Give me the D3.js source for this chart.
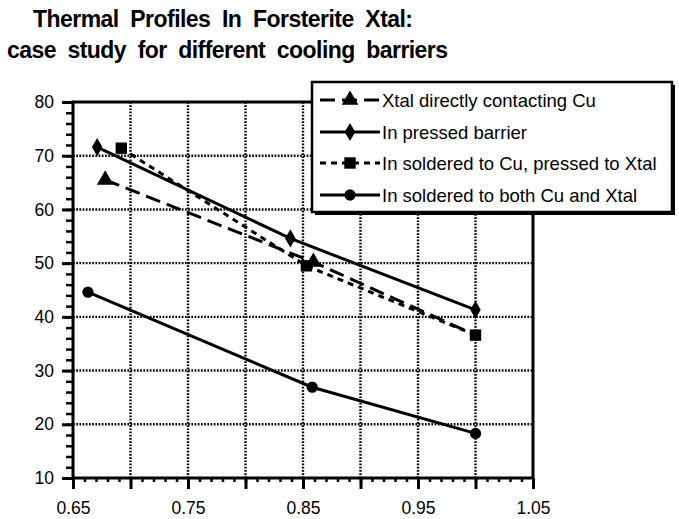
<!DOCTYPE html>
<html lang="en">

<head>
  <meta charset="UTF-8">
  <title>Thermal Profiles in Forsterite Xtal</title>
  <script src="https://cdn.jsdelivr.net/npm/d3@7"></script>
  <style>
    body {
      margin: 0;
      background: #fff;
    }

    text {
      font-family: "Liberation Sans", Arial, sans-serif;
      fill: #000;
    }
  </style>
</head>

<body>
  <div id="wrapper"></div>
  <script>
    //#region Data
    const titleLines = ["Thermal  Profiles  In  Forsterite  Xtal:", "case  study  for  different  cooling  barriers"];

    const seriesNames = [
      "Xtal directly contacting Cu",
      "In pressed barrier",
      "In soldered to Cu, pressed to Xtal",
      "In soldered to both Cu and Xtal",
    ];

    const xtalCuX = [0.678, 0.859, 1.0];
    const xtalCuY = [65.5, 50.2, 36.6];

    const pressedX = [0.671, 0.839, 1.0];
    const pressedY = [71.6, 54.6, 41.3];

    const solderedCuX = [0.692, 0.853, 1.0];
    const solderedCuY = [71.4, 49.5, 36.6];

    const solderedBothX = [0.663, 0.858, 1.0];
    const solderedBothY = [44.6, 26.9, 18.3];

    const xTicks = [0.65, 0.70, 0.75, 0.80, 0.85, 0.90, 0.95, 1.00, 1.05];
    const xTickLabels = ["0.65", "", "0.75", "", "0.85", "", "0.95", "", "1.05"];
    const yTicks = [10, 20, 30, 40, 50, 60, 70, 80];
    //#endregion

    //#region Dimensions
    const dimensions = {
      width: 679,
      height: 519,
      margin: { top: 102, right: 146, bottom: 41, left: 73 },
    };
    dimensions.boundedWidth = dimensions.width - dimensions.margin.left - dimensions.margin.right;
    dimensions.boundedHeight = dimensions.height - dimensions.margin.top - dimensions.margin.bottom;
    //#endregion

    const svg = d3.select("#wrapper")
      .append("svg")
      .attr("width", dimensions.width)
      .attr("height", dimensions.height);

    // title, stretched to the widths of the scanned lines
    svg.append("text")
      .attr("x", 33).attr("y", 27)
      .attr("textLength", 380).attr("lengthAdjust", "spacing")
      .style("font-weight", "bold").style("font-size", "23px")
      .style("white-space", "pre")
      .text(titleLines[0]);
    svg.append("text")
      .attr("x", 7).attr("y", 58)
      .attr("textLength", 441).attr("lengthAdjust", "spacing")
      .style("font-weight", "bold").style("font-size", "23px")
      .style("white-space", "pre")
      .text(titleLines[1]);

    const bounds = svg.append("g")
      .attr("transform", `translate(${dimensions.margin.left},${dimensions.margin.top})`);

    //#region Scales
    const xScale = d3.scaleLinear()
      .domain([0.65, 1.05])
      .range([0, dimensions.boundedWidth]);

    const yScale = d3.scaleLinear()
      .domain([10, 80])
      .range([dimensions.boundedHeight, 0]);
    //#endregion

    //#region Grid
    const grid = bounds.append("g");
    grid.selectAll(".hgrid")
      .data(yTicks.slice(1, -1))
      .join("line")
      .attr("x1", 0).attr("x2", dimensions.boundedWidth)
      .attr("y1", d => yScale(d)).attr("y2", d => yScale(d))
      .attr("stroke", "#000").attr("stroke-width", 2.4)
      .attr("stroke-dasharray", "1.7 1.5");
    grid.selectAll(".vgrid")
      .data(xTicks.slice(1, -1))
      .join("line")
      .attr("x1", d => xScale(d)).attr("x2", d => xScale(d))
      .attr("y1", 0).attr("y2", dimensions.boundedHeight)
      .attr("stroke", "#000").attr("stroke-width", 2.4)
      .attr("stroke-dasharray", "1.7 1.5");
    //#endregion

    //#region Axes
    const minorY = d3.range(10, 80.1, 2);
    bounds.append("g")
      .call(d3.axisLeft(yScale).tickValues(minorY).tickSize(7).tickFormat(""))
      .call(g => g.select(".domain").remove())
      .selectAll("line").attr("stroke-width", 2.5);

    const yAxis = bounds.append("g")
      .call(d3.axisLeft(yScale).tickValues(yTicks).tickSize(11).tickPadding(8).tickFormat(d3.format("d")));
    yAxis.select(".domain").remove();
    yAxis.selectAll("line").attr("stroke-width", 3);
    yAxis.selectAll("text").style("font-size", "17.5px").style("font-family", "Liberation Sans, Arial, sans-serif");

    const minorX = d3.range(0, 41).map(i => 0.65 + i * 0.01);
    bounds.append("g")
      .attr("transform", `translate(0,${dimensions.boundedHeight})`)
      .call(d3.axisBottom(xScale).tickValues(minorX).tickSize(4).tickFormat(""))
      .call(g => g.select(".domain").remove())
      .selectAll("line").attr("stroke-width", 2.5);

    const xAxis = bounds.append("g")
      .attr("transform", `translate(0,${dimensions.boundedHeight})`)
      .call(d3.axisBottom(xScale).tickValues(xTicks).tickSize(11).tickPadding(13)
        .tickFormat((d, i) => xTickLabels[i]));
    xAxis.select(".domain").remove();
    xAxis.selectAll("line").attr("stroke-width", 3);
    xAxis.selectAll("text").style("font-size", "17.5px").style("font-family", "Liberation Sans, Arial, sans-serif");

    // frame
    bounds.append("rect")
      .attr("width", dimensions.boundedWidth)
      .attr("height", dimensions.boundedHeight)
      .attr("fill", "none")
      .attr("stroke", "#000")
      .attr("stroke-width", 3);
    //#endregion

    //#region Series
    // the first series' last triangle sits under the square, so it is not drawn
    const series = [
      { name: seriesNames[0], xs: xtalCuX, ys: xtalCuY, dash: "15 7", marker: "triangle", hidden: [2] },
      { name: seriesNames[1], xs: pressedX, ys: pressedY, dash: null, marker: "diamond", hidden: [] },
      { name: seriesNames[2], xs: solderedCuX, ys: solderedCuY, dash: "6 5", marker: "square", hidden: [] },
      { name: seriesNames[3], xs: solderedBothX, ys: solderedBothY, dash: null, marker: "circle", hidden: [] },
    ];

    const symbolFor = {
      triangle: d3.symbol(d3.symbolTriangle, 120),
      diamond: d3.symbol(d3.symbolDiamond, 95),
      square: d3.symbol(d3.symbolSquare, 130),
      circle: d3.symbol(d3.symbolCircle, 100),
    };

    const lineGenerator = d3.line()
      .x(d => xScale(d[0]))
      .y(d => yScale(d[1]));

    series.forEach(s => {
      const pts = s.xs.map((x, i) => [x, s.ys[i]]);
      bounds.append("path")
        .attr("d", lineGenerator(pts))
        .attr("fill", "none")
        .attr("stroke", "#000")
        .attr("stroke-width", 3)
        .attr("stroke-dasharray", s.dash);
      bounds.selectAll(null)
        .data(pts.filter((d, i) => !s.hidden.includes(i)))
        .join("path")
        .attr("transform", d => `translate(${xScale(d[0])},${yScale(d[1])})`)
        .attr("d", symbolFor[s.marker])
        .attr("fill", "#000");
    });
    //#endregion

    //#region Legend
    const legend = svg.append("g").attr("transform", "translate(312,82)");
    const legendW = 360, legendH = 130;
    legend.append("rect")
      .attr("x", 3).attr("y", 3)
      .attr("width", legendW).attr("height", legendH)
      .attr("fill", "#000");
    legend.append("rect")
      .attr("width", legendW).attr("height", legendH)
      .attr("fill", "#fff")
      .attr("stroke", "#000")
      .attr("stroke-width", 2.5);

    const rowY = [18, 50, 81, 113];
    series.forEach((s, i) => {
      const row = legend.append("g").attr("transform", `translate(0,${rowY[i]})`);
      row.append("line")
        .attr("x1", 8).attr("x2", 68)
        .attr("stroke", "#000").attr("stroke-width", 3)
        .attr("stroke-dasharray", s.dash);
      row.append("path")
        .attr("transform", "translate(38,0)")
        .attr("d", symbolFor[s.marker])
        .attr("fill", "#000");
      row.append("text")
        .attr("x", 70).attr("y", 6.5)
        .style("font-size", "18.5px")
        .text(s.name);
    });
    //#endregion
  </script>
</body>

</html>
